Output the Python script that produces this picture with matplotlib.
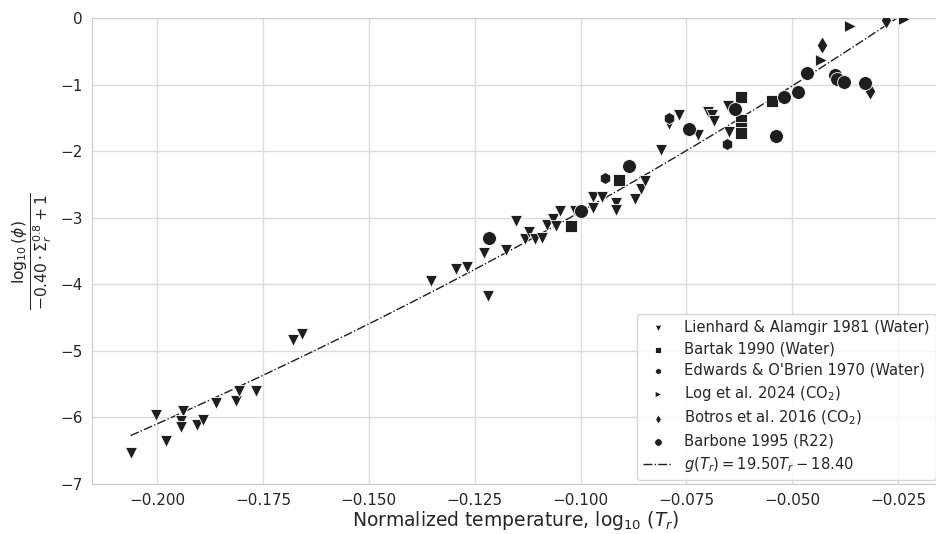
import numpy as np
import matplotlib
matplotlib.use("Agg")
import matplotlib.pyplot as plt
import seaborn as sns

sns.set_style("whitegrid")
plt.rcParams['font.family'] = ['DejaVu Sans']
plt.rcParams['mathtext.fontset'] = 'dejavusans'

# Lienhard & Alamgir 1981 (Water)
lien_x = [-0.2063, -0.2002, -0.1979, -0.1940, -0.1943, -0.1943, -0.1905, -0.1892, -0.1862, -0.1815,
          -0.1806, -0.1767, -0.1680, -0.1658, -0.1354, -0.1294, -0.1267, -0.1228, -0.1219, -0.1175,
          -0.1153, -0.1131, -0.1121, -0.1108, -0.1092, -0.1080, -0.1065, -0.1059, -0.1049, -0.1013,
          -0.0971, -0.0971, -0.0950, -0.0916, -0.0915, -0.0871, -0.0858, -0.0848, -0.0811, -0.0791,
          -0.0767, -0.0723, -0.0699, -0.0690, -0.0685, -0.0652, -0.0650]
lien_y = [-6.54, -5.97, -6.35, -5.90, -6.06, -6.14, -6.12, -6.04, -5.79, -5.76,
          -5.60, -5.60, -4.84, -4.74, -3.95, -3.77, -3.74, -3.53, -4.18, -3.49,
          -3.05, -3.32, -3.21, -3.32, -3.30, -3.11, -3.02, -3.12, -2.90, -2.90,
          -2.69, -2.86, -2.69, -2.78, -2.88, -2.72, -2.57, -2.45, -1.99, -1.59,
          -1.45, -1.76, -1.41, -1.46, -1.55, -1.32, -1.71]

# Bartak 1990 (Water)
bart_x = [-0.1023, -0.0909, -0.0621, -0.0621, -0.0621, -0.0621, -0.0548]
bart_y = [-3.12, -2.43, -1.19, -1.53, -1.65, -1.73, -1.25]

# Edwards & O'Brien 1970 (Water)
edw_x = [-0.0941, -0.0791, -0.0654]
edw_y = [-2.41, -1.50, -1.89]

# Log et al. 2024 (CO2)
log_x = [-0.0433, -0.0364, -0.0236]
log_y = [-0.63, -0.12, -0.02]

# Botros et al. 2016 (CO2)
bot_x = [-0.0430, -0.0315, -0.0278]
bot_y = [-0.40, -1.10, -0.03]

# Barbone 1995 (R22)
barb_x = [-0.1216, -0.1000, -0.0885, -0.0743, -0.0635, -0.0538, -0.0519, -0.0486, -0.0465,
          -0.0399, -0.0394, -0.0378, -0.0328]
barb_y = [-3.30, -2.90, -2.22, -1.67, -1.37, -1.77, -1.19, -1.11, -0.83,
          -0.86, -0.92, -0.96, -0.98]

fit_a, fit_b = 19.50, -18.40

fig = plt.figure(figsize=(9.36, 5.34), dpi=100)
ax = fig.add_axes([92/936, 50/534, (940 - 92)/936, 466/534])

col = '#1e1e1e'
kw = dict(color=col, edgecolor='white', linewidth=0.6, zorder=3)
ax.scatter(lien_x, lien_y, marker='v', s=75, label='Lienhard & Alamgir 1981 (Water)', **kw)
ax.scatter(bart_x, bart_y, marker='s', s=75, label='Bartak 1990 (Water)', **kw)
ax.scatter(edw_x, edw_y, marker='h', s=75, label="Edwards & O'Brien 1970 (Water)", **kw)
ax.scatter(log_x, log_y, marker='>', s=75, label='Log et al. 2024 (CO$_2$)', **kw)
ax.scatter(bot_x, bot_y, marker='d', s=80, label='Botros et al. 2016 (CO$_2$)', **kw)
ax.scatter(barb_x, barb_y, marker='o', s=100, label='Barbone 1995 (R22)', **kw)

all_x = lien_x + bart_x + edw_x + log_x + bot_x + barb_x
xs = np.linspace(min(all_x), max(all_x), 200)
ax.plot(xs, fit_a * 10**xs + fit_b, color=col, linestyle='-.', linewidth=1.0,
        label=r'$g(T_r) = 19.50T_r - 18.40$', zorder=2)

ax.set_xlim(-0.2154, -0.01508)
ax.set_ylim(-7, 0)
ax.set_xticks([-0.200, -0.175, -0.150, -0.125, -0.100, -0.075, -0.050, -0.025])
ax.set_xticklabels(['−0.200', '−0.175', '−0.150', '−0.125', '−0.100', '−0.075', '−0.050', '−0.025'])
ax.set_yticks(range(-7, 1))
ax.tick_params(labelsize=11, colors='#262626', pad=3)
ax.set_xlabel(r'Normalized temperature, $\log_{10}\,(T_r)$', fontsize=13.5, color='#262626', labelpad=1)
ax.set_ylabel(r'$\frac{\log_{10}(\phi)}{-0.40\cdot\Sigma_r^{0.8}+1}$', fontsize=16, color='#262626')
ax.grid(color='#dcdcdc', linewidth=1)
for s in ax.spines.values():
    s.set_color('#cccccc')

leg = ax.legend(loc='lower right', fontsize=10.6, markerscale=0.55, frameon=True,
                borderaxespad=0.3, handletextpad=0.8, labelspacing=0.42)
leg.get_frame().set_edgecolor('#cccccc')

fig.savefig('out.png', dpi=100)
